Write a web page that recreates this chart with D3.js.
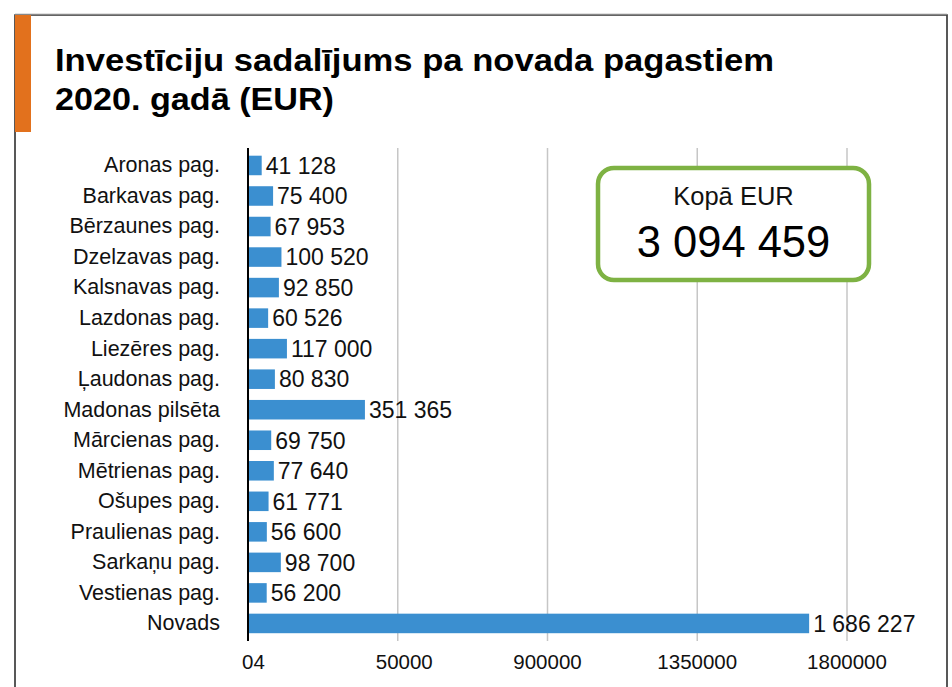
<!DOCTYPE html>
<html>
<head>
<meta charset="utf-8">
<script src="https://cdn.jsdelivr.net/npm/d3@7"></script>
<style>
  body { margin: 0; background: #fff; }
  svg { display: block; font-family: "Liberation Sans", Arial, sans-serif; }
</style>
</head>
<body>
<svg width="952" height="687"></svg>
<script>
// data
var categories = ["Aronas pag.", "Barkavas pag.", "Bērzaunes pag.", "Dzelzavas pag.", "Kalsnavas pag.",
  "Lazdonas pag.", "Liezēres pag.", "Ļaudonas pag.", "Madonas pilsēta", "Mārcienas pag.",
  "Mētrienas pag.", "Ošupes pag.", "Praulienas pag.", "Sarkaņu pag.", "Vestienas pag.", "Novads"];
var values = [41128, 75400, 67953, 100520, 92850, 60526, 117000, 80830, 351365, 69750,
  77640, 61771, 56600, 98700, 56200, 1686227];
var tickValues = [0, 450000, 900000, 1350000, 1800000];
var tickLabels = ["04", "50000", "900000", "1350000", "1800000"];
var totalLabel = "Kopā EUR";
var totalValue = 3094459;
var titleLines = ["Investīciju sadalījums pa novada pagastiem", "2020. gadā (EUR)"];

var svg = d3.select("svg");

// number with space as thousands separator
var fmt = function(v) {
  return d3.format(",")(v).replace(/,/g, " ");
};

// frame
svg.append("path")
  .attr("d", "M15,687V15H947V687")
  .attr("fill", "none")
  .attr("stroke", "#222")
  .attr("stroke-width", 1.5);
svg.append("line")
  .attr("x1", 15).attr("x2", 947)
  .attr("y1", 14.5).attr("y2", 14.5)
  .attr("stroke", "#888")
  .attr("stroke-width", 1.5);
svg.append("rect")
  .attr("x", 15).attr("y", 15)
  .attr("width", 16).attr("height", 117)
  .attr("fill", "#e2711d");

// title
svg.selectAll(".title")
  .data(titleLines)
  .enter().append("text")
  .attr("class", "title")
  .attr("x", 55)
  .attr("y", function(d, i) { return 71 + i * 39; })
  .attr("font-size", 31)
  .attr("font-weight", "bold")
  .attr("fill", "#000")
  .attr("textLength", function(d, i) { return i == 0 ? 719 : 279; })
  .attr("lengthAdjust", "spacingAndGlyphs")
  .text(function(d) { return d; });

var x = d3.scaleLinear().domain([0, 1800000]).range([248, 847]);
var y = d3.scaleBand().domain(categories).range([144.7, 644.2]).padding(0.36);

var gridTop = 148, gridBottom = 641;

// gridlines
svg.append("g")
  .selectAll("line")
  .data(tickValues.slice(1))
  .enter().append("line")
  .attr("x1", function(d) { return x(d); })
  .attr("x2", function(d) { return x(d); })
  .attr("y1", gridTop).attr("y2", gridBottom)
  .attr("stroke", "#c6c6c6")
  .attr("stroke-width", 1.5);

// bars
svg.append("g")
  .selectAll("rect")
  .data(values)
  .enter().append("rect")
  .attr("x", x(0) + 1)
  .attr("y", function(d, i) { return y(categories[i]); })
  .attr("width", function(d) { return x(d) - x(0) - 1; })
  .attr("height", y.bandwidth())
  .attr("fill", "#3b8fd0");

// value labels
svg.append("g")
  .selectAll("text")
  .data(values)
  .enter().append("text")
  .attr("x", function(d) { return x(d) + 4; })
  .attr("y", function(d, i) { return y(categories[i]) + y.bandwidth() / 2; })
  .attr("dy", "0.36em")
  .attr("font-size", 23)
  .attr("fill", "#111")
  .text(function(d) { return fmt(d); });

// category axis
var yAxis = svg.append("g")
  .attr("transform", "translate(" + x(0) + ",0)")
  .call(d3.axisLeft(y).tickSize(0).tickPadding(28));
yAxis.select(".domain")
  .attr("stroke", "#000")
  .attr("stroke-width", 2)
  .attr("d", "M0," + gridTop + "V" + gridBottom);
yAxis.selectAll("text")
  .attr("font-size", 21.5)
  .attr("font-family", "Liberation Sans, Arial, sans-serif")
  .attr("fill", "#111");

// value axis labels
svg.append("g")
  .selectAll("text")
  .data(tickValues)
  .enter().append("text")
  .attr("x", function(d, i) {
    if (i == 0) return x(d) - 6;
    if (i == 1) return x(d) + 35;
    return x(d);
  })
  .attr("y", 669)
  .attr("text-anchor", function(d, i) {
    if (i == 0) return "start";
    if (i == 1) return "end";
    return "middle";
  })
  .attr("font-size", 20.5)
  .attr("fill", "#111")
  .text(function(d, i) { return tickLabels[i]; });

// total box
var box = svg.append("g");
box.append("rect")
  .attr("x", 598).attr("y", 168)
  .attr("width", 271).attr("height", 112)
  .attr("rx", 16).attr("ry", 16)
  .attr("fill", "#fff")
  .attr("stroke", "#7eb243")
  .attr("stroke-width", 4.5);
box.append("text")
  .attr("x", 733.5).attr("y", 205)
  .attr("text-anchor", "middle")
  .attr("font-size", 25.5)
  .attr("fill", "#111")
  .text(totalLabel);
box.append("text")
  .attr("x", 733.5).attr("y", 257)
  .attr("text-anchor", "middle")
  .attr("font-size", 43.5)
  .attr("fill", "#000")
  .text(fmt(totalValue));
</script>
</body>
</html>
